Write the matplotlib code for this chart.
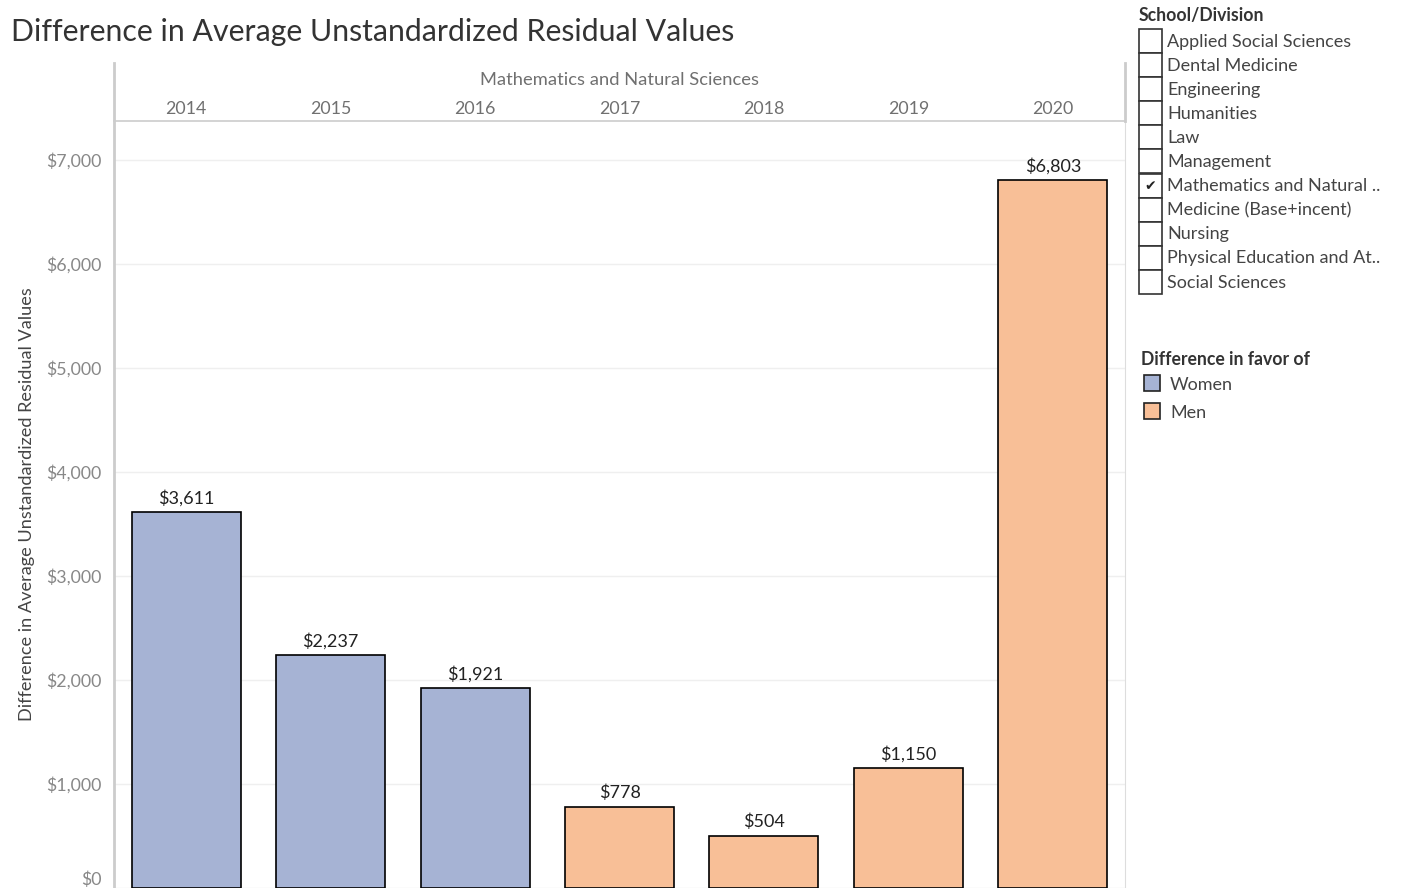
import matplotlib
matplotlib.use("Agg")
import matplotlib.pyplot as plt
from matplotlib.patches import Rectangle
from matplotlib.lines import Line2D

# data
years = ["2014", "2015", "2016", "2017", "2018", "2019", "2020"]
values = [3611, 2237, 1921, 778, 504, 1150, 6803]
favor = ["Women", "Women", "Women", "Men", "Men", "Men", "Men"]
yticks = [0, 1000, 2000, 3000, 4000, 5000, 6000, 7000]
schools = [
    "Applied Social Sciences", "Dental Medicine", "Engineering", "Humanities",
    "Law", "Management", "Mathematics and Natural ..", "Medicine (Base+incent)",
    "Nursing", "Physical Education and At..", "Social Sciences",
]
selected = "Mathematics and Natural .."
legend_items = ["Women", "Men"]
colors = {"Women": "#A6B3D4", "Men": "#F8BF97"}

plt.rcParams["font.family"] = ["Lato", "DejaVu Sans"]

W, H = 1402, 888
fig = plt.figure(figsize=(W / 100, H / 100), dpi=100)


def fx(px):
    return px / W


def fy(py):
    return 1 - py / H


ax = fig.add_axes([fx(114), 0, fx(1125) - fx(114), fy(121)])
x = list(range(len(years)))
ax.bar(x, values, width=0.755, color=[colors[f] for f in favor],
       edgecolor="black", linewidth=1.2, zorder=3)
for xi, v in zip(x, values):
    ax.text(xi, v + 55, f"${v:,}", ha="center", va="bottom", fontsize=13,
            color="#222222")
ax.set_xlim(-0.5, len(years) - 0.5)
ax.set_ylim(0, 7375)
ax.set_yticks(yticks)
ax.set_yticklabels([f"${t:,}" for t in yticks], fontsize=12.8, color="#888888")
# the $0 label sits just above the bottom edge
ax.get_yticklabels()[0].set_va("bottom")
ax.set_xticks([])
ax.tick_params(axis="y", length=0, pad=9)
ax.grid(axis="y", color="#efefef", linewidth=1, zorder=0)
for s in ["top", "bottom", "left"]:
    ax.spines[s].set_visible(False)
ax.spines["right"].set_color("#dddddd")
ax.set_ylabel("Difference in Average Unstandardized Residual Values",
              fontsize=13.1, color="#444444", labelpad=8)

# header above the plot
fig.add_artist(Line2D([fx(114), fx(114)], [fy(63), 0], color="#cccccc", lw=2))
fig.add_artist(Line2D([fx(1125), fx(1125)], [fy(63), fy(121)], color="#cccccc", lw=2))
fig.add_artist(Line2D([fx(114), fx(1125)], [fy(121), fy(121)], color="#cccccc", lw=1.2))
fig.text(fx(620), fy(80), "Mathematics and Natural Sciences", ha="center",
         va="center", fontsize=13.2, color="#707070")
span = (1125 - 114) / len(years)
for i, yr in enumerate(years):
    fig.text(fx(114 + span * (i + 0.5)), fy(108.5), yr, ha="center", va="center",
             fontsize=12.8, color="#707070")

fig.text(fx(11), fy(32.5), "Difference in Average Unstandardized Residual Values",
         ha="left", va="center", fontsize=21.8, color="#333333")

# school filter
fig.text(fx(1139), fy(16), "School/Division", ha="left", va="center",
         fontsize=12.7, color="#333333", fontweight="bold")
for i, s in enumerate(schools):
    top = 29 + i * 24.1
    fig.add_artist(Rectangle((fx(1139), fy(top + 24)), fx(23), 24 / H,
                             facecolor="white", edgecolor="#333333", lw=1.2))
    if s == selected:
        fig.text(fx(1150.5), fy(top + 12.5), "\u2714", ha="center", va="center",
                 fontsize=10, color="#222222", family=["DejaVu Sans"])
    fig.text(fx(1167), fy(top + 12.5), s, ha="left", va="center",
             fontsize=13, color="#444444")

# colour legend
fig.text(fx(1141), fy(359), "Difference in favor of", ha="left", va="center",
         fontsize=12.7, color="#333333", fontweight="bold")
for i, name in enumerate(legend_items):
    top = 375 + i * 28
    fig.add_artist(Rectangle((fx(1144), fy(top + 16)), fx(16), 16 / H,
                             facecolor=colors[name], edgecolor="#222222", lw=1.2))
    fig.text(fx(1170), fy(top + 9.5), name, ha="left", va="center",
             fontsize=13, color="#444444")

fig.savefig("out.png", dpi=100, facecolor="white")
